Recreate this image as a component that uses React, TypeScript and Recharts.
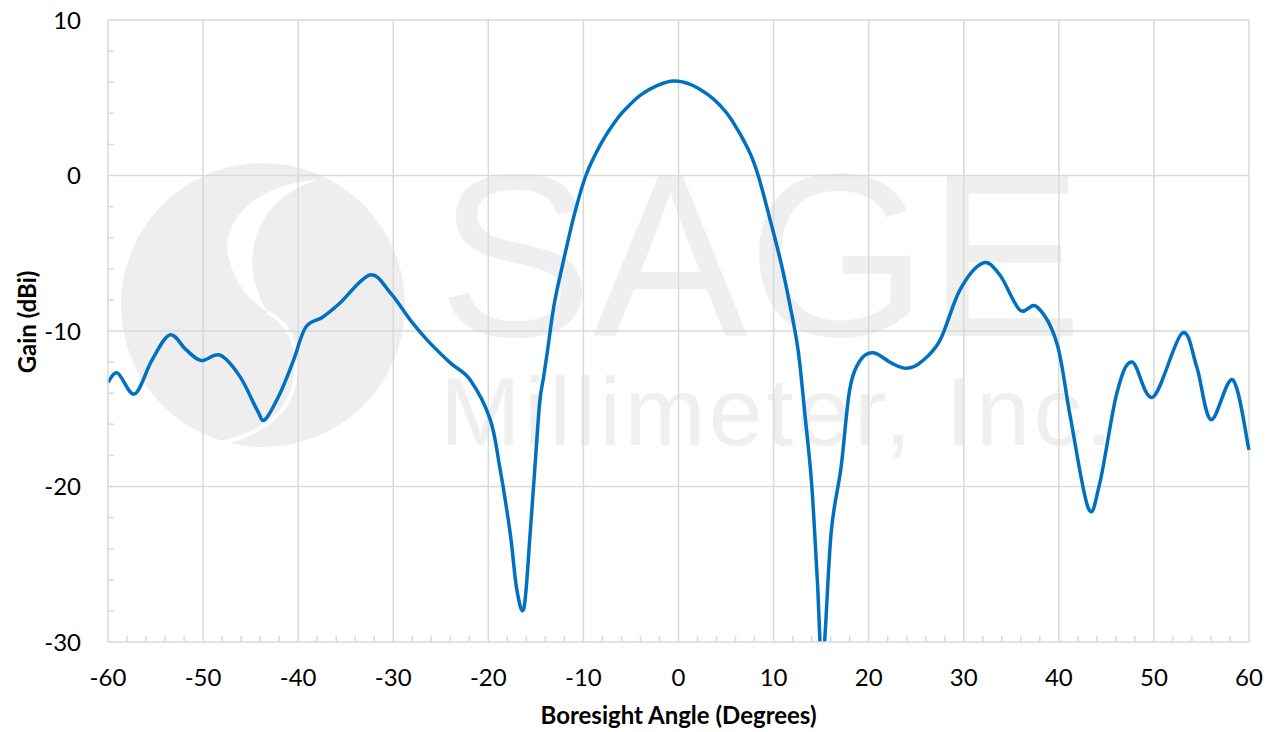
import { LineChart, Line, XAxis, YAxis, ReferenceLine } from "recharts";

const angles = [
  -60, -59, -57.2, -55.4, -53.5, -51.8, -50.2, -48.2, -46.1, -44.3, -43.5, -41.9, -40.5,
  -39.2, -37.4, -35.6, -32.45, -30.3, -28.2, -26.4, -24, -21.9, -19.8, -18.8, -17.7, -17,
  -16.25, -15.6, -15.1, -14.6, -14.2, -13.78, -13.08, -12.19, -10.97, -9.74, -8.15, -6.39,
  -5.2, -3.93, -2.2, -0.5, 1.3, 3.1, 4.3, 5.56, 7.32, 8.38, 9.78, 10.83, 11.71, 12.59, 13.3,
  14.0, 14.6, 15.15, 16.05, 17.1, 18, 19.1, 20.5, 22.5, 24, 25.5, 27.5, 29.6, 32, 33.8, 35.9,
  37.7, 39.8, 41.2, 43.1, 44.3, 46.1, 47.7, 49.9, 52.95, 54.5, 56, 58.3, 60,
];
const gains = [
  -13.3, -12.7, -14.05, -11.9, -10.25, -11.2, -11.9, -11.55, -12.95, -15.1, -15.7, -14.0, -11.9,
  -9.75, -9.1, -8.2, -6.4, -7.55, -9.3, -10.6, -12.05, -13.15, -15.7, -18.75, -23.0, -26.65,
  -27.8, -23.0, -18.75, -14.6, -13.0, -11.28, -8.3, -5.74, -2.55, 0, 2.05, 3.7,
  4.5, 5.2, 5.8, 6.08, 5.85, 5.2, 4.55, 3.6, 1.7, 0, -3.19, -5.74, -8.3, -11.28, -15.4,
  -19.8, -26, -31.5, -23, -18.75, -13.8, -11.9, -11.4, -12.1, -12.4, -12.0, -10.6, -7.35, -5.63, -6.4, -8.65,
  -8.45, -10.8, -15.5, -21.4, -19.8, -14.0, -12.0, -14.25, -10.15, -12.3, -15.7, -13.15, -17.65,
];

const xTicks = Array.from({ length: 61 }, (_, i) => -60 + i * 2);
const yTicks = Array.from({ length: 21 }, (_, i) => -30 + i * 2);
const xGrid = [-50, -40, -30, -20, -10, 0, 10, 20, 30, 40, 50, 60];
const yGrid = [-20, -10, 0, 10];

const data = angles.map((a, i) => ({ angle: a, gain: gains[i] }));

const FONT = "Lato, 'Open Sans', sans-serif";
const GRID = "#d9d9d9";

// Excel-like smoothed line (Catmull-Rom through the points)
const smoothCurve = (context: any) => {
  let pts: number[][] = [];
  return {
    areaStart() {},
    areaEnd() {},
    lineStart() {
      pts = [];
    },
    point(x: number, y: number) {
      pts.push([+x, +y]);
    },
    lineEnd() {
      const n = pts.length;
      if (!n) return;
      context.moveTo(pts[0][0], pts[0][1]);
      const t = 1 / 6;
      for (let i = 0; i < n - 1; i++) {
        const p0 = pts[Math.max(i - 1, 0)];
        const p1 = pts[i];
        const p2 = pts[i + 1];
        const p3 = pts[Math.min(i + 2, n - 1)];
        context.bezierCurveTo(
          p1[0] + (p2[0] - p0[0]) * t,
          p1[1] + (p2[1] - p0[1]) * t,
          p2[0] - (p3[0] - p1[0]) * t,
          p2[1] - (p3[1] - p1[1]) * t,
          p2[0],
          p2[1]
        );
      }
    },
  };
};

const XTick = (props: any) => {
  const { x, y, payload } = props;
  const v = payload.value;
  const major = v % 10 === 0;
  return (
    <g>
      {!major && <line x1={x} y1={y} x2={x} y2={y - 6} stroke={GRID} strokeWidth={1.5} />}
      {major && (
        <text x={x} y={y + 44} textAnchor="middle" fontSize={24} fill="#000" fontFamily={FONT}>
          {String(v)}
        </text>
      )}
    </g>
  );
};

const YTick = (props: any) => {
  const { x, y, payload } = props;
  const v = payload.value;
  const major = v % 10 === 0;
  return (
    <g>
      {!major && <line x1={x} y1={y} x2={x + 6} y2={y} stroke={GRID} strokeWidth={1.5} />}
      {major && (
        <text x={x - 27} y={y} dy="0.36em" textAnchor="end" fontSize={24} fill="#000" fontFamily={FONT}>
          {String(v)}
        </text>
      )}
    </g>
  );
};

const YLabel = (props: any) => {
  const { viewBox } = props;
  const cx = 28;
  const cy = viewBox.y + viewBox.height / 2 - 9;
  return (
    <text
      x={cx}
      y={cy}
      dy="0.35em"
      transform={`rotate(-90 ${cx} ${cy})`}
      textAnchor="middle"
      fontSize={24}
      fontWeight="bold"
      fontFamily={FONT}
      fill="#000"
    >
      Gain (dBi)
    </text>
  );
};

const Watermark = () => (
  <svg width={1274} height={732} style={{ position: "absolute", left: 0, top: 0 }}>
    <circle cx={263} cy={305} r={142} fill="#eeeeee" />
    <path
      d="M 317 180 C 250 185, 222 225, 228 255 C 234 285, 252 303, 267 312 C 256 292, 250 272, 253 252 C 257 218, 278 193, 317 180 Z"
      fill="#fff"
    />
    <path d="M 267 312 C 292 325, 300 348, 295 380 C 290 412, 262 435, 220 443" stroke="#fff" strokeWidth={4} fill="none" />
    <text x={438} y={336} fontSize={232} fill="#efefef" fontFamily="'Liberation Sans', Arial, sans-serif">
      SAGE
    </text>
    <text
      x={440}
      y={445}
      fontSize={97}
      letterSpacing={3.5}
      fill="#efefef"
      fontFamily="'Liberation Sans', Arial, sans-serif"
    >
      Millimeter, Inc.
    </text>
  </svg>
);

export default function App() {
  return (
    <div style={{ position: "absolute", left: 0, top: 0, width: 1274, height: 732, background: "#fff" }}>
      <Watermark />
      <div style={{ position: "absolute", left: 0, top: 0 }}>
        <LineChart width={1274} height={732} data={data} margin={{ top: 20, right: 25, bottom: 0, left: 0 }}>
          {xGrid.map((v) => (
            <ReferenceLine key={"x" + v} x={v} stroke={GRID} strokeWidth={1.5} />
          ))}
          {yGrid.map((v) => (
            <ReferenceLine key={"y" + v} y={v} stroke={GRID} strokeWidth={1.5} />
          ))}
          <XAxis
            dataKey="angle"
            type="number"
            domain={[-60, 60]}
            ticks={xTicks}
            interval={0}
            height={90}
            tickSize={0}
            tickMargin={0}
            tickLine={false}
            axisLine={{ stroke: GRID, strokeWidth: 1.5 }}
            tick={<XTick />}
            label={{
              value: "Boresight Angle (Degrees)",
              position: "insideBottom",
              offset: 8,
              fontSize: 24,
              fontWeight: "bold",
              fontFamily: FONT,
              fill: "#000",
            }}
          />
          <YAxis
            type="number"
            domain={[-30, 10]}
            allowDataOverflow
            ticks={yTicks}
            interval={0}
            width={108}
            tickSize={0}
            tickMargin={0}
            tickLine={false}
            axisLine={{ stroke: GRID, strokeWidth: 1.5 }}
            tick={<YTick />}
            label={<YLabel />}
          />
          <Line
            type={smoothCurve as any}
            dataKey="gain"
            stroke="#0070C0"
            strokeWidth={3.5}
            dot={false}
            activeDot={false}
            isAnimationActive={false}
          />
        </LineChart>
      </div>
    </div>
  );
}
